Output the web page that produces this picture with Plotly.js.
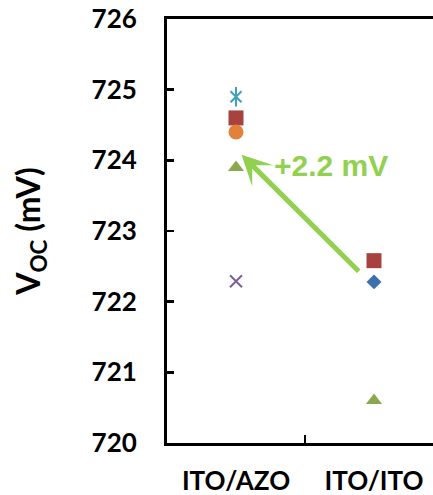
<!DOCTYPE html>
<html>
<head>
<meta charset="utf-8">
<script src="https://cdn.plot.ly/plotly-3.0.1.min.js"></script>
<style>
  html, body { margin: 0; padding: 0; overflow: hidden; background: #fff; }
  #chart { width: 450px; height: 495px; }
</style>
</head>
<body>
<div id="chart"></div>
<script>
// Open-circuit voltage by electrode stack
const categories = ['ITO/AZO', 'ITO/ITO'];

// One series per sample; null where a sample has no value in that stack
const seriesDiamond  = [null, 722.28];
const seriesSquare   = [724.60, 722.58];
const seriesTriangle = [723.90, 720.60];
const seriesCross    = [722.29, null];
const seriesStar     = [724.90, null];
const seriesCircle   = [724.40, null];

const yTicks = [720, 721, 722, 723, 724, 725, 726];

// Improvement arrow: from the ITO/ITO level up to the ITO/AZO level
const arrowFrom = [0.90, 722.41];
const arrowTo   = [0.04, 724.08];
const gainLabel = '+2.2 mV';
const gainPos   = [0.69, 723.93];

const green = '#92D050';

function pts(name, y, symbol, size, color, lineW) {
  const open = symbol.indexOf('open') >= 0;
  return {
    type: 'scatter', mode: 'markers', name: name,
    x: categories, y: y,
    marker: {
      symbol: symbol, size: size,
      color: color,
      line: { color: color, width: open ? lineW : 0 }
    },
    cliponaxis: false,
    hoverinfo: 'y'
  };
}

const data = [
  pts('Sample 1', seriesDiamond, 'diamond', 11.5, '#3D6FAE', 0),
  pts('Sample 2', seriesSquare, 'square', 15, '#A8423F', 0),
  pts('Sample 3', seriesTriangle, 'triangle-up', 14, '#8CA84E', 0),
  pts('Sample 4', seriesCross, 'x-thin-open', 12, '#7A5F9F', 2),
  // the star marker: an x with a vertical stroke through it
  pts('Sample 5', seriesStar, 'x-thin-open', 11, '#3F9FC0', 2),
  pts('Sample 5 ', seriesStar, 'line-ns-open', 14, '#3F9FC0', 2),
  pts('Sample 6', seriesCircle, 'circle', 15, '#E2823A', 0)
];

const tickFont = { family: 'Lato, "Open Sans", sans-serif', size: 26, color: '#000', weight: 'bold' };

const layout = {
  width: 450, height: 495,
  margin: { l: 167, r: 7, t: 19, b: 52 },
  paper_bgcolor: '#fff', plot_bgcolor: '#fff',
  showlegend: false,
  xaxis: {
    type: 'category',
    categoryorder: 'array', categoryarray: categories,
    range: [-0.5, 1.5],
    tickson: 'boundaries',
    ticks: 'inside', ticklen: 8, tickwidth: 2.5, tickcolor: '#000',
    showline: true, linecolor: '#000', linewidth: 3, mirror: true,
    showgrid: false, zeroline: false,
    tickfont: tickFont,
    ticklabelstandoff: 13,
    fixedrange: true
  },
  yaxis: {
    range: [720, 726],
    tickvals: yTicks,
    ticktext: yTicks.map(String),
    ticks: 'inside', ticklen: 7, tickwidth: 2.5, tickcolor: '#000',
    showline: true, linecolor: '#000', linewidth: 3, mirror: true,
    showgrid: false, zeroline: false,
    tickfont: tickFont,
    ticklabelstandoff: 22,
    title: {
      text: 'V<sub>OC</sub> (mV)',
      font: { family: 'Lato, "Open Sans", sans-serif', size: 32, color: '#000', weight: 'bold' },
      standoff: 42
    },
    fixedrange: true
  },
  annotations: [
    {
      x: arrowTo[0], y: arrowTo[1], xref: 'x', yref: 'y',
      ax: arrowFrom[0], ay: arrowFrom[1], axref: 'x', ayref: 'y',
      text: '', showarrow: true,
      arrowhead: 3, arrowsize: 1, arrowwidth: 5, arrowcolor: green
    },
    {
      x: gainPos[0], y: gainPos[1], xref: 'x', yref: 'y',
      text: '<b>' + gainLabel + '</b>', showarrow: false,
      font: { family: '"Liberation Sans", Arial, sans-serif', size: 30, color: green },
      xanchor: 'center', yanchor: 'middle'
    }
  ]
};

Plotly.newPlot('chart', data, layout, { displayModeBar: false, staticPlot: true });
</script>
</body>
</html>
